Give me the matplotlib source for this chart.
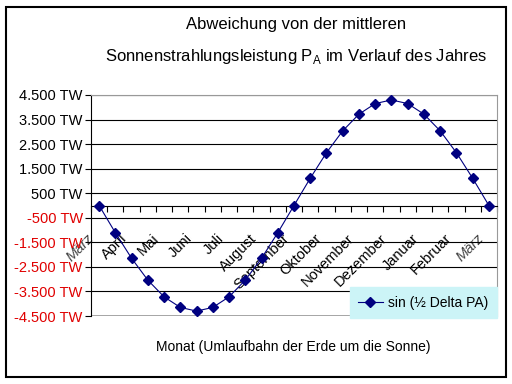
import matplotlib
matplotlib.use("Agg")
import matplotlib.pyplot as plt
import matplotlib.transforms as mtransforms
from matplotlib.patches import Rectangle
from matplotlib.lines import Line2D

plt.rcParams['font.family'] = ['Liberation Sans', 'DejaVu Sans']
plt.rcParams['mathtext.fontset'] = 'custom'
plt.rcParams['mathtext.rm'] = 'Liberation Sans'

# Data
months = ["März", "April", "Mai", "Juni", "Juli", "August", "September",
          "Oktober", "November", "Dezember", "Januar", "Februar", "März"]
values = [0, -1110, -2150, -3040, -3720, -4150, -4300, -4150, -3720, -3040,
          -2150, -1110, 0, 1110, 2150, 3040, 3720, 4150, 4300, 4150, 3720,
          3040, 2150, 1110, 0]
y_ticks = [4500, 3500, 2500, 1500, 500, -500, -1500, -2500, -3500, -4500]
y_labels = ["4.500 TW", "3.500 TW", "2.500 TW", "1.500 TW", "500 TW",
            "-500 TW", "-1.500 TW", "-2.500 TW", "-3.500 TW", "-4.500 TW"]
series_name = "sin (½ Delta PA)"

W, H = 512, 384
fig = plt.figure(figsize=(W / 100, H / 100), dpi=100)

# chart border
fig.patches.append(Rectangle((6 / W, 1 - 377 / H), 500 / W, 370 / H,
                             transform=fig.transFigure, fill=False,
                             edgecolor='black', linewidth=1.5))

ax = fig.add_axes([91 / W, 1 - 316 / H, 406 / W, 221 / H])
x = list(range(len(values)))
ax.plot(x, values, color='#000080', linewidth=0.8, marker='D',
        markersize=4.8, markerfacecolor='#000080', markeredgecolor='#000080',
        zorder=3)

ax.set_xlim(-0.5, len(values) - 0.5)
ax.set_ylim(-4500, 4500)

# y axis
ax.set_yticks(y_ticks)
ax.set_yticklabels(y_labels, fontsize=10.5)
for lbl, v in zip(ax.get_yticklabels(), y_ticks):
    lbl.set_color('black' if v > 0 else '#E00000')
ax.tick_params(axis='y', direction='out', length=4, width=0.8, pad=2)
ax.yaxis.grid(True, color='black', linewidth=0.8)
ax.set_axisbelow(True)

# category axis at zero
ax.spines['bottom'].set_position(('data', 0))
ax.spines['bottom'].set_linewidth(0.8)
ax.set_xticks([i - 0.5 for i in range(len(values) + 1)], minor=True)
ax.set_xticks(list(range(0, len(values), 2)))
ax.set_xticklabels(months, fontsize=10.5, rotation=45, ha='right',
                   va='center', rotation_mode='anchor')
ax.tick_params(axis='x', which='major', length=0, pad=22)
ax.tick_params(axis='x', which='minor', direction='out', length=4, width=0.8)
shift = mtransforms.ScaledTranslation(-7 / 100, 0, fig.dpi_scale_trans)
for i, lbl in enumerate(ax.get_xticklabels()):
    lbl.set_transform(lbl.get_transform() + shift)
    if i in (0, len(months) - 1):
        lbl.set_fontstyle('italic')
        lbl.set_color('#444444')

for side in ('top', 'right'):
    ax.spines[side].set_color('#999999')
ax.spines['left'].set_linewidth(0.8)
ax.axhline(-4500, color='#999999', linewidth=1.2, zorder=1)

# titles
fig.text(296 / W, 1 - 24 / H, "Abweichung von der mittleren",
         ha='center', va='center', fontsize=12)
fig.text(296 / W, 1 - 57 / H,
         r"Sonnenstrahlungsleistung P$_{\mathrm{A}}$ im Verlauf des Jahres",
         ha='center', va='center', fontsize=12)
fig.text(293 / W, 1 - 347 / H, "Monat (Umlaufbahn der Erde um die Sonne)",
         ha='center', va='center', fontsize=10)

# legend
handle = Line2D([], [], color='#000080', linewidth=0.8, marker='D',
                markersize=4.8)
leg = fig.legend([handle], [series_name], loc='lower right',
                 bbox_to_anchor=(497 / W, 1 - 318 / H), fontsize=10,
                 frameon=True, fancybox=False, handlelength=1.8,
                 handletextpad=0.4, borderpad=0.6, borderaxespad=0)
leg.get_frame().set_facecolor('#CCF4F7')
leg.get_frame().set_edgecolor('#CCF4F7')
leg.get_frame().set_alpha(1)

fig.savefig("out.png", dpi=100)
